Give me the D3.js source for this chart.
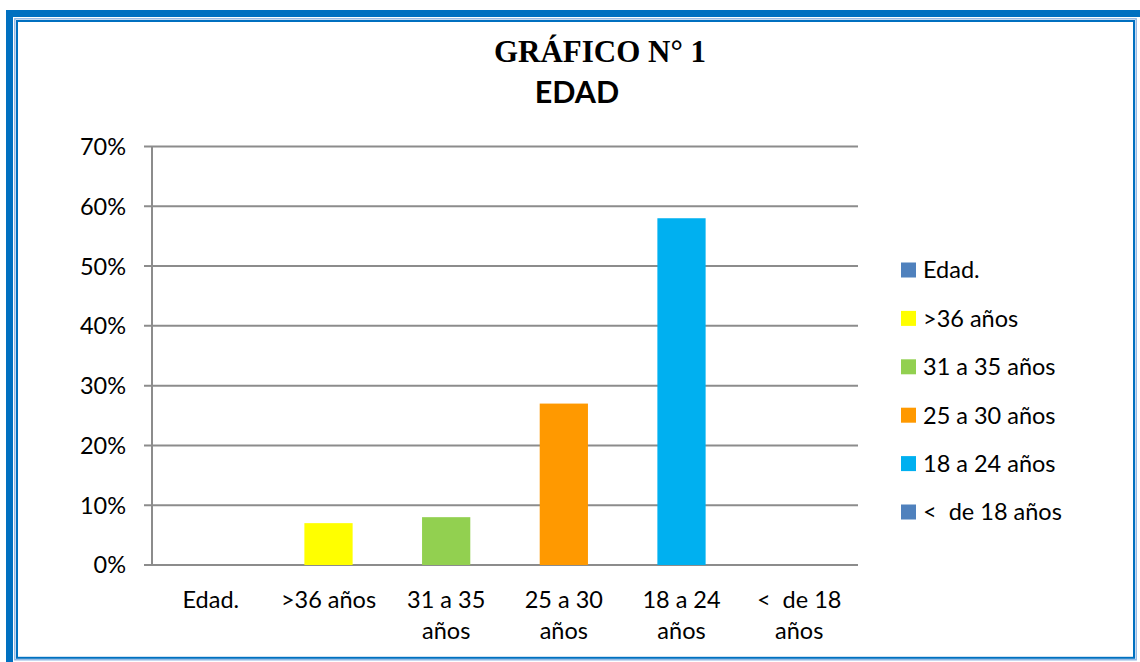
<!DOCTYPE html>
<html>
<head>
<meta charset="utf-8">
<script src="https://cdn.jsdelivr.net/npm/d3@7"></script>
<style>
  body { margin: 0; background: #fff; }
  text { white-space: pre; }
</style>
</head>
<body>
<div id="chart"></div>
<script>
const width = 1140
const height = 662
const margin = { top: 146.5, bottom: 97, left: 152, right: 282 }

// datos
const categories = ["Edad.", ">36 años", "31 a 35 años", "25 a 30 años", "18 a 24 años", "<  de 18 años"]
const values = [0, 0.07, 0.08, 0.27, 0.58, 0]
const colors = ["#4F81BD", "#FFFF00", "#92D050", "#FF9900", "#00B0F0", "#4F81BD"]
const yTicks = [0, 0.1, 0.2, 0.3, 0.4, 0.5, 0.6, 0.7]
// etiquetas del eje x en dos lineas
const xLabels = [["Edad."], [">36 años"], ["31 a 35", "años"], ["25 a 30", "años"], ["18 a 24", "años"], ["<  de 18", "años"]]

const data = categories.map((c, i) => ({ cat: c, value: values[i], color: colors[i], lines: xLabels[i] }))

const font = "Lato, 'Open Sans', sans-serif"
const fs = 23.5

const svg = d3.select("#chart").append("svg").attr("width", width).attr("height", height)

// marco
svg.append("rect").attr("x", 6).attr("y", 10).attr("width", 7).attr("height", height - 10).attr("fill", "#0070C0")
svg.append("rect").attr("x", 6).attr("y", 10).attr("width", width - 6).attr("height", 7).attr("fill", "#0070C0")
svg.append("rect").attr("x", 14.8).attr("y", 18.8).attr("width", 1136.2 - 14.8).attr("height", 659.8 - 18.8)
    .attr("fill", "none").attr("stroke", "#8DB4E2").attr("stroke-width", 1.4)
svg.append("rect").attr("x", 17).attr("y", 21).attr("width", 1134 - 17).attr("height", 657.8 - 21)
    .attr("fill", "none").attr("stroke", "#0070C0").attr("stroke-width", 2)

const innerW = width - margin.left - margin.right
const innerH = height - margin.top - margin.bottom

const x = d3.scaleBand().domain(categories).range([0, innerW]).paddingInner(0.59).paddingOuter(0.295)
const y = d3.scaleLinear().domain([0, 0.7]).range([innerH, 0])

const g = svg.append("g").attr("transform", `translate(${margin.left}, ${margin.top})`)

// rejilla
g.selectAll("line.grid").data(yTicks).enter().append("line")
    .attr("class", "grid")
    .attr("x1", -8).attr("x2", innerW)
    .attr("y1", d => y(d)).attr("y2", d => y(d))
    .attr("stroke", "#8C8C8C").attr("stroke-width", 2)

// eje y
g.append("line").attr("x1", 0).attr("x2", 0).attr("y1", 0).attr("y2", innerH)
    .attr("stroke", "#8C8C8C").attr("stroke-width", 2)

g.selectAll("text.ytick").data(yTicks).enter().append("text")
    .attr("class", "ytick")
    .attr("x", -26).attr("y", d => y(d)).attr("dy", "0.36em")
    .attr("text-anchor", "end")
    .attr("font-family", font).attr("font-size", fs).attr("fill", "#000")
    .text(d => d3.format(".0%")(d))

// barras
g.selectAll("rect.bar").data(data).enter().append("rect")
    .attr("class", "bar")
    .attr("x", d => x(d.cat))
    .attr("y", d => y(d.value))
    .attr("width", x.bandwidth())
    .attr("height", d => innerH - y(d.value))
    .attr("fill", d => d.color)

// etiquetas x
const xl = g.selectAll("text.xtick").data(data).enter().append("text")
    .attr("class", "xtick")
    .attr("text-anchor", "middle")
    .attr("font-family", font).attr("font-size", fs).attr("fill", "#000")
    .attr("transform", d => `translate(${x(d.cat) + x.bandwidth() / 2}, ${innerH + 43})`)
xl.selectAll("tspan").data(d => d.lines).enter().append("tspan")
    .attr("x", 0).attr("y", (d, i) => i * 31)
    .text(d => d)

// leyenda
const legend = svg.append("g").attr("transform", "translate(901, 270)")
const items = legend.selectAll("g").data(data).enter().append("g")
    .attr("transform", (d, i) => `translate(0, ${i * 48.4})`)
items.append("rect").attr("x", 0).attr("y", -7.5).attr("width", 15).attr("height", 15).attr("fill", d => d.color)
items.append("text").attr("x", 22).attr("y", 0).attr("dy", "0.36em")
    .attr("font-family", font).attr("font-size", fs).attr("fill", "#000")
    .text(d => d.cat)

// titulo
svg.append("text").attr("x", 600).attr("y", 62).attr("text-anchor", "middle")
    .attr("font-family", "'Liberation Serif', 'Times New Roman', serif").attr("font-weight", "bold")
    .attr("font-size", 31).text("GRÁFICO N° 1")
svg.append("text").attr("x", 577).attr("y", 103).attr("text-anchor", "middle")
    .attr("font-family", font).attr("font-weight", "bold")
    .attr("font-size", 30.5).text("EDAD")
</script>
</body>
</html>
